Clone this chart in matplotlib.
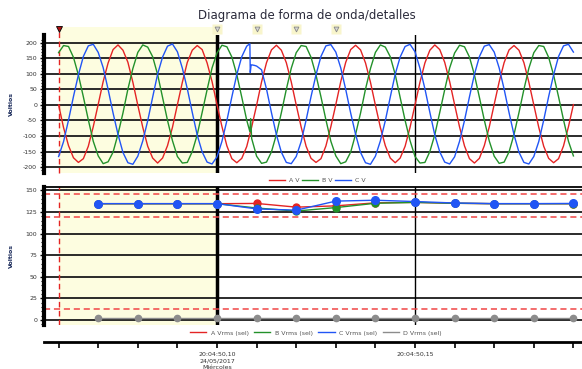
import numpy as np
import matplotlib
matplotlib.use("Agg")
import matplotlib.pyplot as plt
from matplotlib.patches import Rectangle

plt.rcParams["axes.unicode_minus"] = False

# ================= datos =================
# tiempo en ms desde 20:04:50,000 ; muestreo de la forma de onda cada 1.25 ms
t_start = 60.0
t_step = 1.25

a_v = [0, -73, -131, -170, -185, -173, -133, -70, 2, 75, 135, 178, 193, 176, 137, 73,
       -1, -72, -133, -171, -187, -171, -131, -72, 1, 73, 137, 176, 191, 178, 135, 75,
       1, -70, -132, -173, -186, -172, -134, -71, -1, 74, 136, 177, 192, 176, 136, 74,
       0, -71, -133, -172, -185, -173, -132, -70, 1, 75, 137, 178, 192, 177, 135, 73,
       -1, -72, -131, -171, -186, -171, -133, -72, 0, 73, 135, 176, 193, 178, 137, 75,
       1, -71, -132, -173, -187, -172, -131, -71, 2, 74, 136, 177, 191, 176, 136, 73,
       0, -72, -133, -172, -186, -173, -132, -70, 1]

b_v = [168, 191, 188, 153, 96, 26, -48, -117, -164, -189, -183, -152, -94, -26, 51, 117,
       169, 193, 186, 155, 98, 24, -50, -115, -166, -187, -185, -150, -96, -24, 49, 119,
       167, 192, 187, 154, 97, 25, -49, -108, -165, -188, -184, -151, -95, -25, 50, 118,
       168, 191, 188, 153, 96, 26, -48, -117, -164, -189, -183, -152, -94, -26, 51, 117,
       169, 193, 186, 155, 98, 24, -50, -115, -166, -187, -185, -150, -96, -24, 49, 119,
       167, 192, 187, 154, 97, 25, -49, -116, -165, -188, -184, -151, -95, -25, 50, 118,
       168, 191, 188, 153, 96, 26, -48, -117, -164]

c_v = [-166, -118, -49, 27, 97, 156, 190, 195, 169, 120, 50, -26, -95, -153, -186, -191,
       -165, -116, -51, 25, 99, 154, 189, 196, 171, 118, 52, -24, -97, -151, -184, -190,
       -167, -117, -50, 26, 98, 155, 189, 129, 125, 113, 51, -25, -96, -152, -185, -189,
       -166, -118, -49, 27, 97, 156, 190, 194, 170, 119, 50, -26, -95, -153, -186, -191,
       -165, -116, -51, 25, 99, 154, 188, 195, 171, 118, 52, -24, -97, -151, -184, -190,
       -167, -117, -50, 26, 98, 155, 189, 194, 170, 119, 51, -25, -96, -152, -185, -190,
       -166, -118, -49, 27, 97, 156, 190, 195, 170]

# transitorio (puntos extra fuera de la rejilla)
c_evt_t = [108.3, 108.4, 108.6, 109.5]
c_evt_v = [197, 104, 128, 127]
b_evt_t = [108.3, 108.5]
b_evt_v = [-86, -44]

# valores rms (sel)
rms_t = [70, 80, 90, 100, 110, 120, 130, 140, 150, 160, 170, 180, 190]
a_rms = [134.5, 134.5, 134.5, 134.5, 134.8, 130.5, 132.0, 135.5, 136.0, 135.0, 134.5, 134.5, 134.5]
b_rms = [134.5, 134.5, 134.5, 134.5, 129.5, 126.0, 130.0, 135.0, 136.0, 135.0, 134.5, 134.5, 134.5]
c_rms = [134.6, 134.6, 134.6, 134.6, 128.5, 127.0, 137.5, 138.5, 137.0, 135.3, 134.6, 134.6, 134.8]
d_rms = [2, 2, 2, 2, 2, 2, 2, 2, 2, 2, 2, 2, 2]

lim_v = [145.2, 118.8, 13.2]
cursor_t = 60
sel_t = 100
mark_t = [100, 110, 120, 130]
tick_t = [60, 70, 80, 90, 100, 110, 120, 130, 140, 150, 160, 170, 180, 190]
tick_lbl = {100: "20:04:50,10\n24/05/2017\nMiércoles", 150: "20:04:50,15"}

# ================= estilo =================
RED, GREEN, BLUE, GRAY = "#e42424", "#23912a", "#2155f5", "#8c8c8c"
LIMRED = "#f04545"
YELLOW = "#fdfde0"
TXT = "#333333"
xlim = (56.31, 192.17)
MARK_Y = 244


def merge(t, v, et, ev):
    pts = sorted(zip(list(t) + et, list(v) + ev))
    return [p[0] for p in pts], [p[1] for p in pts]


t_ms = t_start + t_step * np.arange(len(a_v))
b_t, b_vv = merge(t_ms, b_v, b_evt_t, b_evt_v)
c_t, c_vv = merge(t_ms, c_v, c_evt_t, c_evt_v)

fig = plt.figure(figsize=(5.82, 3.69), dpi=100)
L, W = 0.0756, 0.9244
ax1 = fig.add_axes([L, 0.5312, W, 0.374])
ax2 = fig.add_axes([L, 0.1179, W, 0.3753])
axt = fig.add_axes([L, 0.0732, W, 0.0001])


def base(ax, ylim, major, minor):
    ax.set_xlim(*xlim)
    ax.set_ylim(*ylim)
    ax.axvspan(cursor_t, sel_t, color=YELLOW, zorder=0, lw=0)
    for y in major:
        ax.axhline(y, color="#1a1a1a", lw=1.3, zorder=1)
    ax.set_yticks(major)
    ax.set_yticks(minor, minor=True)
    ax.set_xticks([])
    for s in ["top", "right", "bottom"]:
        ax.spines[s].set_visible(False)
    ax.spines["left"].set_linewidth(3)
    ax.tick_params(axis="y", which="major", length=3, width=1, pad=2,
                   labelsize=4.5, labelcolor=TXT)
    ax.tick_params(axis="y", which="minor", length=2, width=0.8)
    ax.axvline(sel_t, color="black", lw=2.5, zorder=2)
    ax.axvline(150, color="black", lw=1.0, zorder=2)
    ax.set_ylabel("Voltios", fontsize=4.5, color="#1a2a5a", fontweight="bold")
    ax.yaxis.set_label_coords(-0.056, 0.5)


# ---- formas de onda ----
base(ax1, (-219, 225), list(range(-200, 201, 50)), list(range(-210, 211, 10)))
# franja amarilla sube hasta la fila de marcadores
ax1.add_patch(Rectangle((cursor_t, 225), sel_t - cursor_t, MARK_Y + 6 - 225, color=YELLOW,
                        lw=0, zorder=0, clip_on=False))
ax1.plot([cursor_t, cursor_t], [-219, MARK_Y], color=RED, lw=1.0, ls=(0, (4, 2.5)),
         zorder=2, clip_on=False)
ax1.plot(t_ms, a_v, color=RED, lw=1.0, zorder=3, label="A V")
ax1.plot(b_t, b_vv, color=GREEN, lw=1.0, zorder=3, label="B V")
ax1.plot(c_t, c_vv, color=BLUE, lw=1.0, zorder=3, label="C V")

# marcadores de eventos arriba
ax1.plot(mark_t, [MARK_Y] * len(mark_t), "s", ms=7, color="#f8f5cc", mec="none", clip_on=False)
ax1.plot(mark_t, [MARK_Y] * len(mark_t), "v", ms=3.5, mfc="#d5d5d5", mec="#888888",
         mew=0.6, clip_on=False)
ax1.plot([cursor_t], [MARK_Y], "v", ms=5, mfc="#b01010", mec="black", mew=0.6,
         clip_on=False, zorder=4)

# ---- rms ----
base(ax2, (-6.4, 153.8), list(range(0, 151, 25)), list(range(-5, 155, 5)))
ax2.axvline(cursor_t, color=RED, lw=1.0, ls=(0, (4, 2.5)), zorder=2)
ax2.spines["top"].set_visible(True)
ax2.spines["top"].set_linewidth(1.3)
for y in lim_v:
    ax2.axhline(y, color=LIMRED, lw=1.1, ls=(0, (4, 2.5)), zorder=2)
ax2.plot(rms_t, d_rms, color=GRAY, lw=1.0, marker="o", ms=4.5, zorder=3, label="D Vrms (sel)")
ax2.plot(rms_t, a_rms, color=RED, lw=1.0, marker="o", ms=5, zorder=4, label="A Vrms (sel)")
ax2.plot(rms_t, b_rms, color=GREEN, lw=1.0, marker="o", ms=5, zorder=4, label="B Vrms (sel)")
ax2.plot(rms_t, c_rms, color=BLUE, lw=1.0, marker="o", ms=5.5, zorder=5, label="C Vrms (sel)")

# ---- eje de tiempo ----
axt.set_xlim(*xlim)
axt.set_yticks([])
for s in ["top", "right", "left"]:
    axt.spines[s].set_visible(False)
axt.spines["bottom"].set_linewidth(2)
axt.set_xticks(tick_t)
axt.set_xticklabels([tick_lbl.get(t, "") for t in tick_t], fontsize=4.5, color=TXT,
                    linespacing=1.45)
axt.tick_params(axis="x", length=4, width=1.2, pad=3)

# ---- leyendas ----
h1, l1 = ax1.get_legend_handles_labels()
fig.legend(h1, l1, loc="center", bbox_to_anchor=(0.545, 0.511), ncol=3, frameon=False,
           fontsize=4.5, handlelength=2.6, handletextpad=0.6, columnspacing=0.4,
           labelcolor="#555555")
h2, l2 = ax2.get_legend_handles_labels()
order = [1, 2, 3, 0]
leg_h = [h2[i] for i in order]
leg_l = [l2[i] for i in order]
lines = [plt.Line2D([], [], color=h.get_color(), lw=1.0) for h in leg_h]
fig.legend(lines, leg_l, loc="center", bbox_to_anchor=(0.543, 0.0976), ncol=4, frameon=False,
           fontsize=4.5, handlelength=2.6, handletextpad=0.7, columnspacing=0.9,
           labelcolor="#555555")

fig.text(0.527, 0.957, "Diagrama de forma de onda/detalles", ha="center", va="center",
         fontsize=8.5, color="#2b2b3b")

fig.savefig("out.png", dpi=100)
